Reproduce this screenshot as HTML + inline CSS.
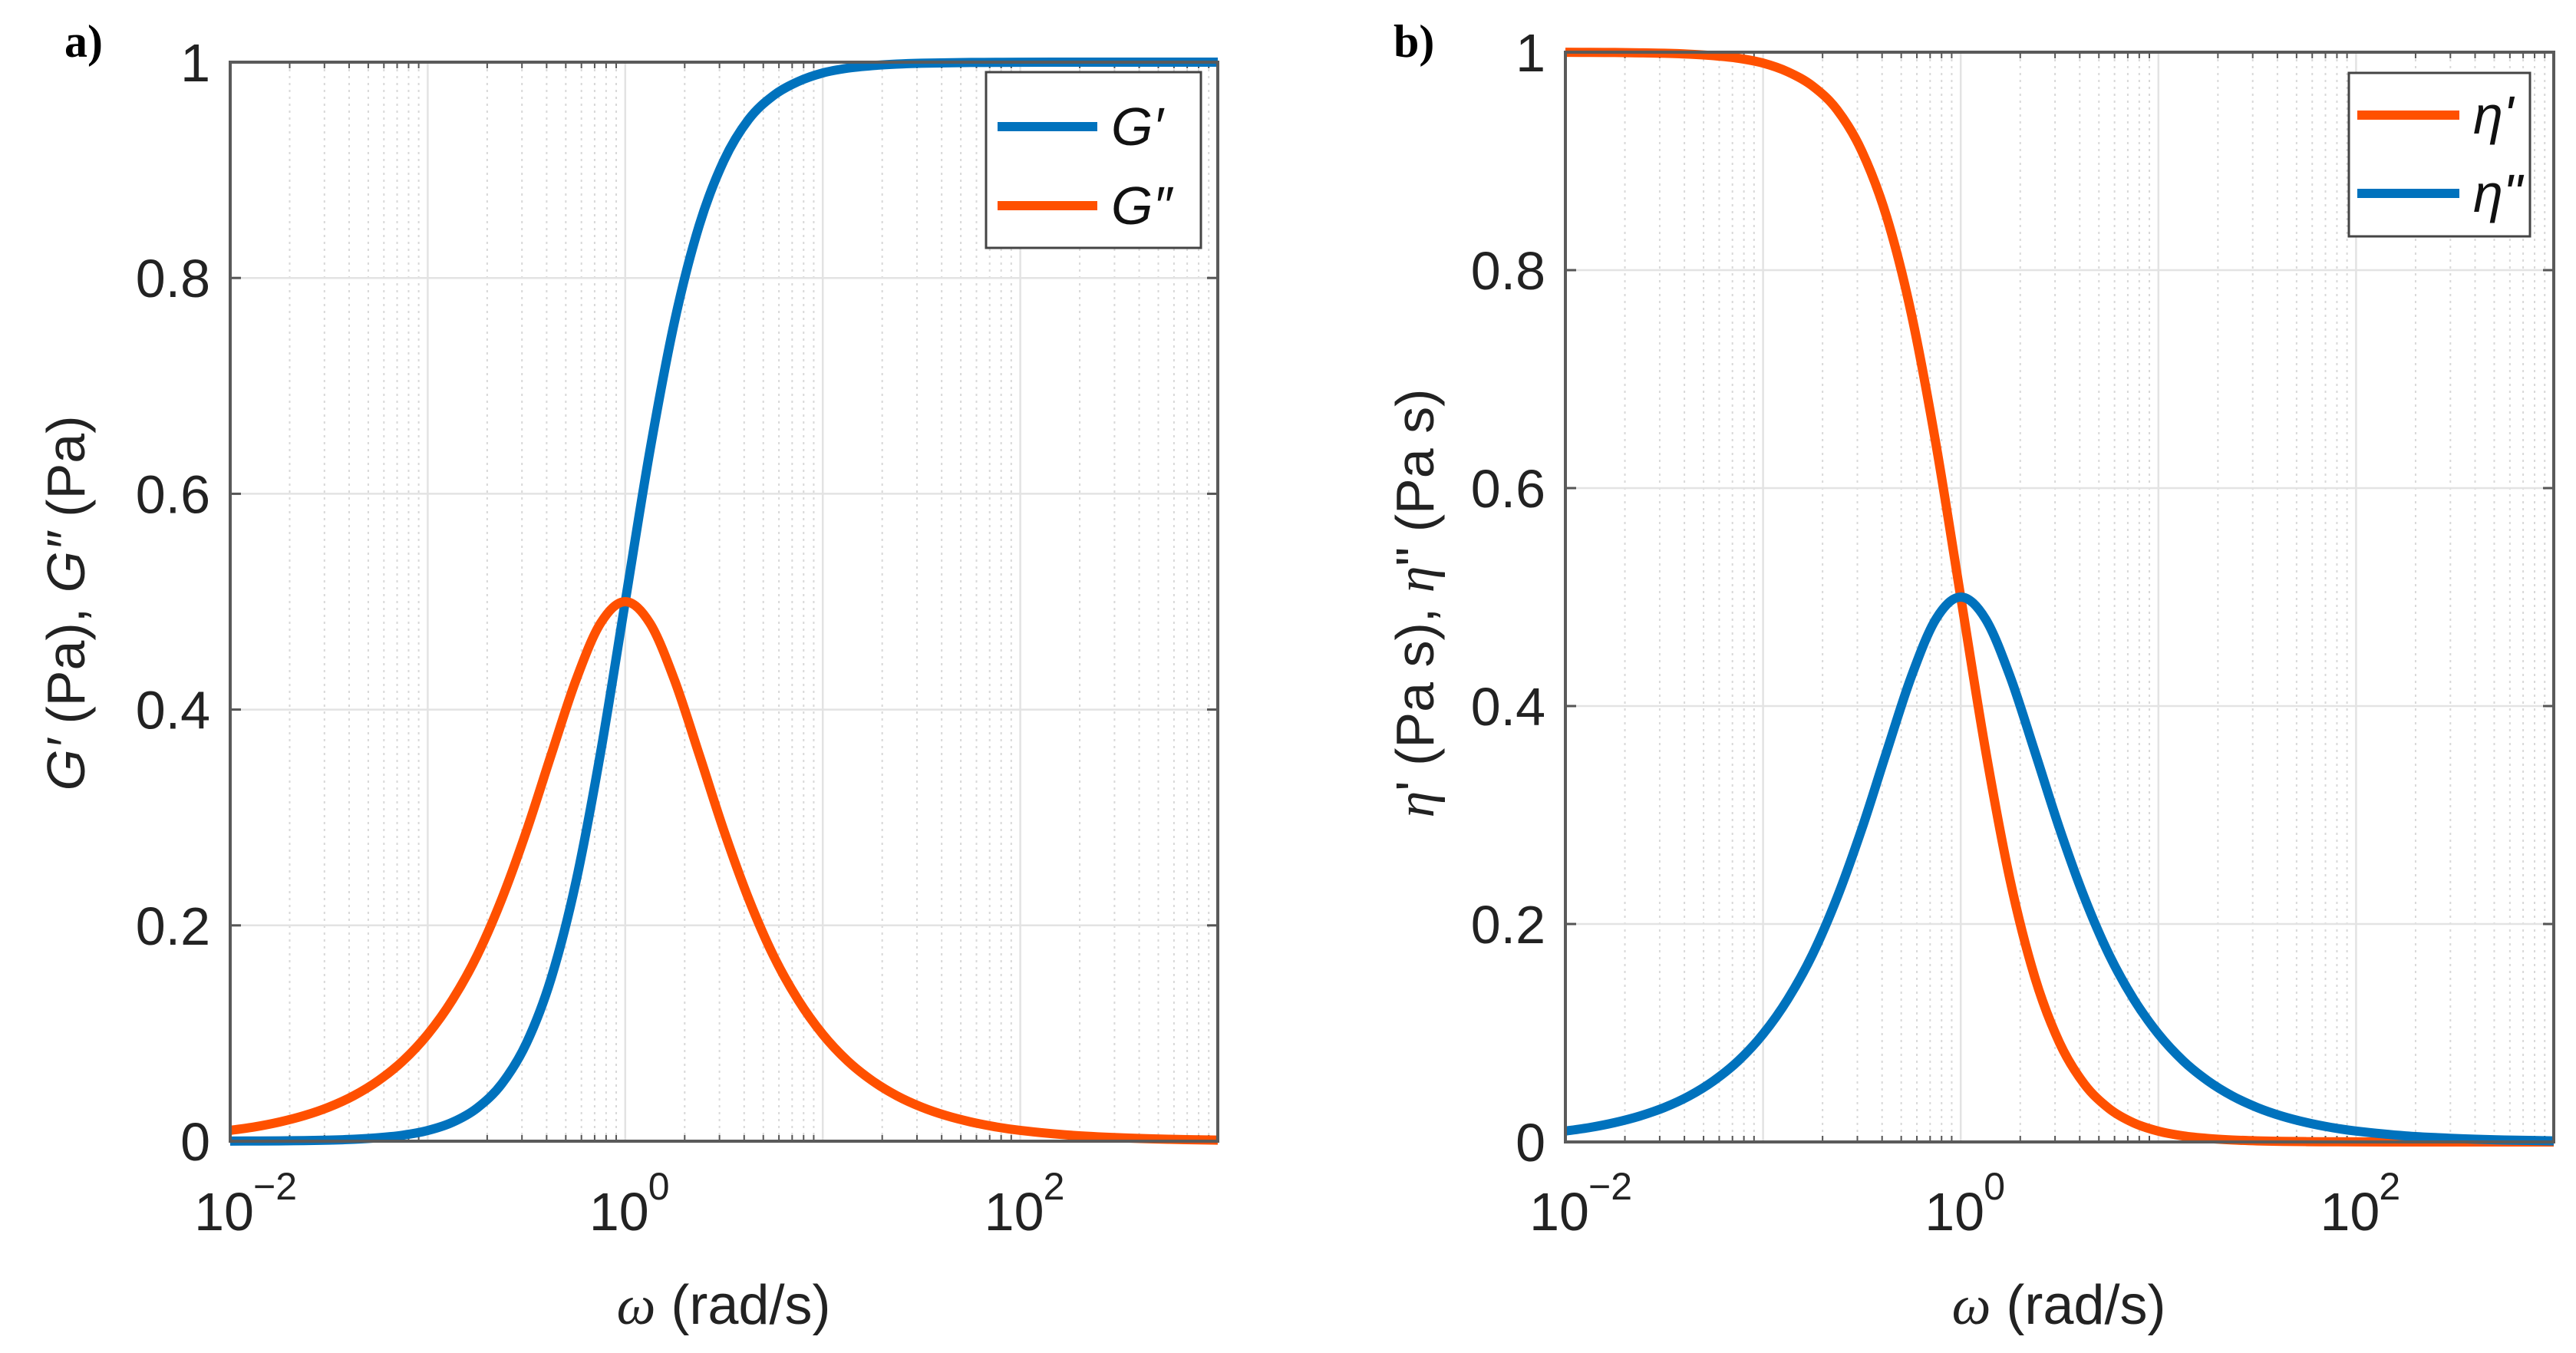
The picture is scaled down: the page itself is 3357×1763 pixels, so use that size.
<!DOCTYPE html>
<html><head><meta charset="utf-8"><style>
html,body{margin:0;padding:0;background:#fff;}
svg{display:block;font-family:"Liberation Sans",sans-serif;}
</style></head><body>
<svg id="chart" width="3357" height="1763" viewBox="0 0 3357 1763" xmlns="http://www.w3.org/2000/svg"></svg>
<script>
// data
const logOmega = [-2,-1.875,-1.75,-1.625,-1.5,-1.375,-1.25,-1.125,-1,-0.875,-0.75,-0.625,-0.5,-0.375,-0.25,-0.125,0,0.125,0.25,0.375,0.5,0.625,0.75,0.875,1,1.125,1.25,1.375,1.5,1.625,1.75,1.875,2,2.25,2.5,2.75,3];
const gPrime   = [0.0001,0.00018,0.0003,0.00056,0.001,0.0018,0.0032,0.0056,0.0099,0.0175,0.0307,0.0532,0.0909,0.151,0.24,0.36,0.5,0.64,0.76,0.849,0.909,0.947,0.969,0.982,0.99,0.9944,0.9968,0.9982,0.999,0.9994,0.9997,0.9998,0.9999,1,1,1,1];
const gDouble  = [0.01,0.0133,0.0178,0.0237,0.0316,0.0421,0.0561,0.0745,0.099,0.131,0.172,0.2245,0.2875,0.358,0.427,0.48,0.5,0.48,0.427,0.358,0.2875,0.2245,0.172,0.131,0.099,0.0745,0.0561,0.0421,0.0316,0.0237,0.0178,0.0133,0.01,0.0056,0.0032,0.0018,0.001];
const etaPrime = [0.9999,0.9998,0.9997,0.9994,0.999,0.9982,0.9968,0.9944,0.99,0.982,0.969,0.947,0.909,0.849,0.76,0.64,0.5,0.36,0.24,0.151,0.0909,0.0532,0.0307,0.0175,0.0099,0.0056,0.0032,0.0018,0.001,0.00056,0.0003,0.00018,0.0001,0,0,0,0];
const etaDouble= [0.01,0.0133,0.0178,0.0237,0.0316,0.0421,0.0561,0.0745,0.099,0.131,0.172,0.2245,0.2875,0.358,0.427,0.48,0.5,0.48,0.427,0.358,0.2875,0.2245,0.172,0.131,0.099,0.0745,0.0561,0.0421,0.0316,0.0237,0.0178,0.0133,0.01,0.0056,0.0032,0.0018,0.001];
const yTicks = [0,0.2,0.4,0.6,0.8,1];
const yTickLabels = ["0","0.2","0.4","0.6","0.8","1"];
const xTickExps = [-2,0,2];
const xTickLabels = ["\u22122","0","2"];

const NS="http://www.w3.org/2000/svg";
const svg=document.getElementById('chart');
const BLUE="#0072BD", ORANGE="#FF5000";
function mk(tag,attrs,parent){const e=document.createElementNS(NS,tag);for(const k in attrs)e.setAttribute(k,attrs[k]);(parent||svg).appendChild(e);return e;}

function panel(p){
  const g=mk('g',{});
  
  
  const X=v=>p.x0+(v+2)/5*(p.x1-p.x0);
  const Y=v=>p.y1-v*(p.y1-p.y0);
  for(let d=-2;d<3;d++){for(let m=2;m<=9;m++){const x=X(d+Math.log10(m));
    const l=mk('line',{x1:x,x2:x,y1:p.y0,y2:p.y1,stroke:'#d8d8d8','stroke-width':2,'stroke-dasharray':'3 6'},g);
    
    mk('line',{x1:x,x2:x,y1:p.y1,y2:p.y1-8,stroke:'#555','stroke-width':2},g);
    mk('line',{x1:x,x2:x,y1:p.y0,y2:p.y0+8,stroke:'#555','stroke-width':2},g);}}
  for(let d=-2;d<=3;d++){const x=X(d);
    const l=mk('line',{x1:x,x2:x,y1:p.y0,y2:p.y1,stroke:'#e3e3e3','stroke-width':2.5},g);
    }
  yTicks.forEach((t,i)=>{const y=Y(t);
    const l=mk('line',{x1:p.x0,x2:p.x1,y1:y,y2:y,stroke:'#e3e3e3','stroke-width':2.5},g);
    
    mk('line',{x1:p.x0,x2:p.x0+14,y1:y,y2:y,stroke:'#555','stroke-width':3},g);
    mk('line',{x1:p.x1,x2:p.x1-14,y1:y,y2:y,stroke:'#555','stroke-width':3},g);
    const tx=mk('text',{x:p.x0-26,y:y+25,'font-size':70,'text-anchor':'end',fill:'#222'},g);
    tx.textContent=yTickLabels[i];
    });
  xTickExps.forEach((e,i)=>{const x=X(e);
    const tx=mk('text',{x:x-8,y:1603,'font-size':70,'text-anchor':'middle',fill:'#222'},g);
    tx.textContent='10';
    
    const sp=mk('text',{x:x+30,y:1563,'font-size':50,'text-anchor':'start',fill:'#222'},g);
    sp.textContent=xTickLabels[i];
    });
  function path(vals,color,name){
    const pts=logOmega.map((l,i)=>[X(l),Y(vals[i])]);
    let d='M'+pts[0][0]+','+pts[0][1];
    for(let i=0;i<pts.length-1;i++){const p0=pts[i-1]||pts[i],p1=pts[i],p2=pts[i+1],p3=pts[i+2]||pts[i+1];
      const c1=[p1[0]+(p2[0]-p0[0])/6,p1[1]+(p2[1]-p0[1])/6],c2=[p2[0]-(p3[0]-p1[0])/6,p2[1]-(p3[1]-p1[1])/6];
      d+=' C'+c1[0]+','+c1[1]+' '+c2[0]+','+c2[1]+' '+p2[0]+','+p2[1];}
    const e=mk('path',{d:d,fill:'none',stroke:color,'stroke-width':12,'stroke-linejoin':'round'},g);
    }
  p.series.forEach(s=>path(s.vals,s.color,s.name));
  const b=mk('rect',{x:p.x0,y:p.y0,width:p.x1-p.x0,height:p.y1-p.y0,fill:'none',stroke:'#5a5a5a','stroke-width':4},g);
  
  const L=p.legend;
  const lg=mk('g',{},g);
  
  mk('rect',{x:L.x,y:L.y,width:L.w,height:L.h,fill:'#fff',stroke:'#444','stroke-width':3},lg);
  p.series.forEach((s,i)=>{const ly=L.ys[i];
    const en=mk('g',{},lg);
    
    mk('line',{x1:L.lx0,x2:L.lx1,y1:ly,y2:ly,stroke:s.color,'stroke-width':12},en);
    const t=mk('text',{x:L.lx1+18,y:ly+24,'font-size':70,'font-style':'italic',fill:'#111'},en);
    t.textContent=s.label;});
}

panel({name:'panel-a',x0:300,x1:1587,y0:81,y1:1487,
  series:[{vals:gPrime,color:BLUE,name:'series-g-prime',label:"G\u2032"},{vals:gDouble,color:ORANGE,name:'series-g-double-prime',label:"G\u2033"}],
  legend:{x:1285,y:94,w:280,h:229,lx0:1300,lx1:1430,ys:[165,268]}});
panel({name:'panel-b',x0:2040,x1:3328,y0:68,y1:1488,
  series:[{vals:etaPrime,color:ORANGE,name:'series-eta-prime',label:"\u03b7'"},{vals:etaDouble,color:BLUE,name:'series-eta-double-prime',label:"\u03b7\""}],
  legend:{x:3061,y:95,w:236,h:213,lx0:3072,lx1:3205,ys:[150,252]}});

function txt(attrs,content,name){const t=mk('text',attrs);t.textContent=content;
  return t;}
txt({x:84,y:74,'font-size':60,'font-weight':'bold','font-family':'Liberation Serif, serif'},'a)','panel-a-label');
txt({x:1816,y:74,'font-size':60,'font-weight':'bold','font-family':'Liberation Serif, serif'},'b)','panel-b-label');
const xt1=txt({x:943,y:1725,'font-size':72,'text-anchor':'middle',fill:'#222'},'','x-axis-title-a');
xt1.innerHTML='<tspan font-style="italic" font-family="Liberation Serif, serif">ω</tspan> (rad/s)';
const xt2=txt({x:2683,y:1725,'font-size':72,'text-anchor':'middle',fill:'#222'},'','x-axis-title-b');
xt2.innerHTML='<tspan font-style="italic" font-family="Liberation Serif, serif">ω</tspan> (rad/s)';
const yt1=txt({x:0,y:0,'font-size':70,'text-anchor':'middle',fill:'#222',transform:'translate(110,786) rotate(-90)'},'','y-axis-title-a');
yt1.innerHTML='<tspan font-style="italic">G′</tspan> (Pa),  <tspan font-style="italic">G″</tspan> (Pa)';
const yt2=txt({x:0,y:0,'font-size':70,'text-anchor':'middle',fill:'#222',transform:'translate(1868,786) rotate(-90)'},'','y-axis-title-b');
yt2.innerHTML='<tspan font-style="italic" font-family="Liberation Serif, serif">η</tspan>\' (Pa s), <tspan font-style="italic" font-family="Liberation Serif, serif">η</tspan>" (Pa s)';
</script>
</body></html>
